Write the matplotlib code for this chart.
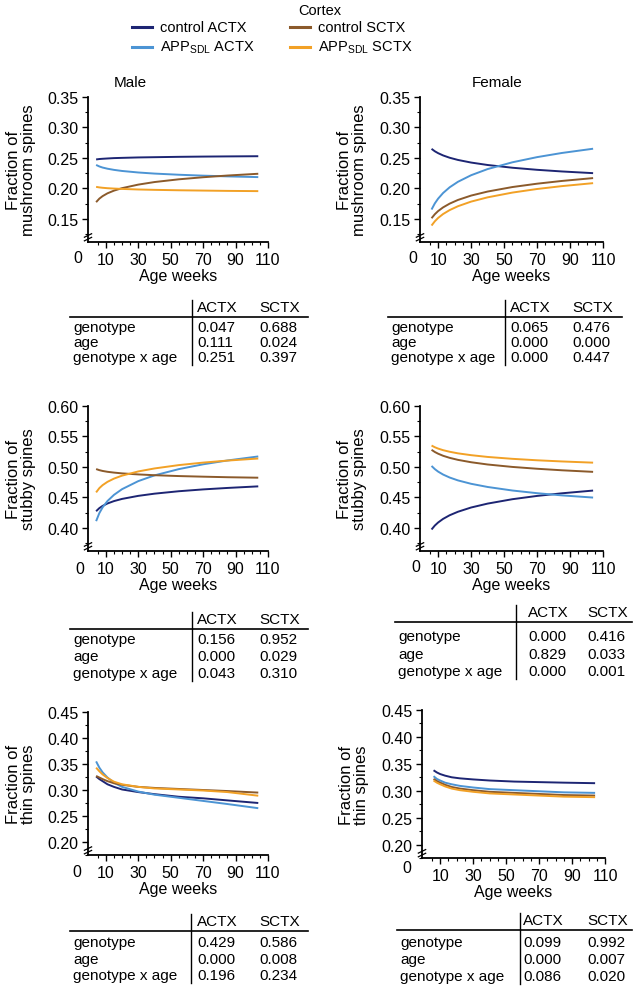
import numpy as np
import matplotlib
matplotlib.use('Agg')
import matplotlib.pyplot as plt
from matplotlib.lines import Line2D

plt.rcParams['font.family'] = ['Liberation Sans', 'DejaVu Sans']
plt.rcParams['mathtext.fontset'] = 'custom'
plt.rcParams['mathtext.rm'] = 'Liberation Sans'

W, H = 638, 995

# ages (weeks) at which the fitted curves were read
ages_male = [4, 6, 8, 11, 15, 20, 30, 40, 55, 70, 85, 104]
ages_female = [6, 8, 10, 13, 17, 22, 30, 40, 55, 70, 85, 104]

series_names = ['control ACTX', r'APP$_{\mathregular{SDL}}$ ACTX',
                'control SCTX', r'APP$_{\mathregular{SDL}}$ SCTX']
colors = ['#1d2573', '#4c94d4', '#8b5a2b', '#f2a126']

# mushroom spines
mush_male = [
    [0.2475, 0.2482, 0.2486, 0.2491, 0.2497, 0.2501, 0.2508, 0.2512, 0.2518, 0.2522, 0.2525, 0.2528],
    [0.2385, 0.2360, 0.2342, 0.2323, 0.2304, 0.2286, 0.2261, 0.2243, 0.2224, 0.2209, 0.2197, 0.2185],
    [0.1774, 0.1832, 0.1873, 0.1919, 0.1963, 0.2004, 0.2062, 0.2104, 0.2149, 0.2183, 0.2211, 0.2240],
    [0.2025, 0.2016, 0.2010, 0.2003, 0.1997, 0.1991, 0.1982, 0.1976, 0.1969, 0.1964, 0.1959, 0.1955],
]
mush_female = [
    [0.2649, 0.2609, 0.2578, 0.2541, 0.2503, 0.2467, 0.2424, 0.2384, 0.2339, 0.2305, 0.2278, 0.2250],
    [0.1653, 0.1754, 0.1832, 0.1924, 0.2018, 0.2108, 0.2216, 0.2317, 0.2428, 0.2513, 0.2581, 0.2651],
    [0.1510, 0.1576, 0.1628, 0.1688, 0.1750, 0.1810, 0.1882, 0.1948, 0.2022, 0.2077, 0.2122, 0.2169],
    [0.1390, 0.1460, 0.1515, 0.1579, 0.1644, 0.1707, 0.1783, 0.1853, 0.1931, 0.1990, 0.2037, 0.2086],
]
# stubby spines
stub_male = [
    [0.4273, 0.4324, 0.4360, 0.4400, 0.4439, 0.4475, 0.4525, 0.4561, 0.4601, 0.4631, 0.4655, 0.4681],
    [0.4110, 0.4242, 0.4336, 0.4440, 0.4541, 0.4635, 0.4767, 0.4861, 0.4964, 0.5043, 0.5106, 0.5172],
    [0.4965, 0.4947, 0.4934, 0.4920, 0.4907, 0.4894, 0.4877, 0.4864, 0.4850, 0.4840, 0.4831, 0.4823],
    [0.4582, 0.4652, 0.4701, 0.4755, 0.4808, 0.4857, 0.4926, 0.4975, 0.5030, 0.5071, 0.5104, 0.5138],
]
stub_female = [
    [0.3973, 0.4038, 0.4088, 0.4147, 0.4207, 0.4264, 0.4334, 0.4398, 0.4470, 0.4524, 0.4567, 0.4612],
    [0.5016, 0.4964, 0.4923, 0.4875, 0.4826, 0.4779, 0.4723, 0.4671, 0.4613, 0.4569, 0.4533, 0.4497],
    [0.5281, 0.5245, 0.5217, 0.5183, 0.5149, 0.5116, 0.5077, 0.5040, 0.5000, 0.4970, 0.4945, 0.4919],
    [0.5351, 0.5323, 0.5301, 0.5275, 0.5249, 0.5223, 0.5193, 0.5164, 0.5133, 0.5109, 0.5090, 0.5070],
]
# thin spines
thin_male = [
    [0.326, 0.321, 0.317, 0.311, 0.306, 0.301, 0.296, 0.292, 0.287, 0.284, 0.280, 0.275],
    [0.355, 0.343, 0.334, 0.324, 0.314, 0.306, 0.297, 0.291, 0.285, 0.279, 0.273, 0.265],
    [0.327, 0.324, 0.321, 0.317, 0.313, 0.310, 0.306, 0.304, 0.302, 0.300, 0.298, 0.295],
    [0.343, 0.336, 0.330, 0.323, 0.316, 0.311, 0.306, 0.303, 0.301, 0.299, 0.296, 0.289],
]
thin_female = [
    [0.338, 0.334, 0.331, 0.328, 0.325, 0.323, 0.321, 0.319, 0.317, 0.316, 0.315, 0.314],
    [0.327, 0.322, 0.319, 0.315, 0.312, 0.309, 0.306, 0.303, 0.301, 0.299, 0.297, 0.296],
    [0.322, 0.318, 0.315, 0.311, 0.307, 0.304, 0.301, 0.298, 0.296, 0.294, 0.292, 0.291],
    [0.319, 0.315, 0.312, 0.308, 0.304, 0.301, 0.298, 0.295, 0.293, 0.291, 0.289, 0.288],
]

# p-value tables: rows genotype, age, genotype x age; columns ACTX, SCTX
row_names = ['genotype', 'age', 'genotype x age']
col_names = ['ACTX', 'SCTX']
p_mush_male = [['0.047', '0.688'], ['0.111', '0.024'], ['0.251', '0.397']]
p_mush_female = [['0.065', '0.476'], ['0.000', '0.000'], ['0.000', '0.447']]
p_stub_male = [['0.156', '0.952'], ['0.000', '0.029'], ['0.043', '0.310']]
p_stub_female = [['0.000', '0.416'], ['0.829', '0.033'], ['0.000', '0.001']]
p_thin_male = [['0.429', '0.586'], ['0.000', '0.008'], ['0.196', '0.234']]
p_thin_female = [['0.099', '0.992'], ['0.000', '0.007'], ['0.086', '0.020']]

xticks = [10, 30, 50, 70, 90, 110]


def fx(x):
    return x / W


def fy(y):
    return 1 - y / H


def panel(fig, left, top, right, bottom, ages, data, ylim, yticks, ylabel,
          zero_off=(-7, -11)):
    ax = fig.add_axes([fx(left), fy(bottom), (right - left) / W, (bottom - top) / H])
    for vals, c in zip(data, colors):
        ax.plot(ages, vals, color=c, lw=1.4, solid_capstyle='butt')
    ax.set_xlim(-1, 110)
    ax.set_ylim(*ylim)
    for s in ['top', 'right']:
        ax.spines[s].set_visible(False)
    for s in ['left', 'bottom']:
        ax.spines[s].set_linewidth(1.3)
    ax.set_xticks(xticks)
    ax.set_xticks(np.arange(5, 110, 5), minor=True)
    ax.set_yticks(yticks)
    ax.set_yticklabels(['%.2f' % v for v in yticks])
    ax.set_yticks(np.arange(yticks[0] - 0.025, yticks[-1], 0.025), minor=True)
    ax.tick_params(which='major', length=4, width=1.0, labelsize=11.5, pad=3)
    ax.tick_params(which='minor', length=2.5, width=0.8)
    ax.set_xlabel('Age weeks', fontsize=11.5, labelpad=1)
    ax.text(-0.37, 0.5, ylabel, transform=ax.transAxes, rotation=90,
            ha='center', va='center', fontsize=12, multialignment='center',
            linespacing=1.0)
    ax.annotate('0', xy=(0, 0), xycoords='axes fraction', xytext=zero_off,
                textcoords='offset points', ha='center', va='center', fontsize=11.5)
    # axis break mark
    kw = dict(transform=ax.transAxes, color='k', lw=0.9, clip_on=False)
    for yy in (0.02, 0.045):
        ax.plot([-0.02, 0.02], [yy - 0.012, yy + 0.012], **kw)
    return ax


def table(fig, x_left, x_vline, x_right, x_c1, x_c2, y_head, rows_y, vals):
    y_line = y_head + 10
    fig.add_artist(Line2D([fx(x_left), fx(x_right)], [fy(y_line), fy(y_line)],
                          color='k', lw=1.2))
    fig.add_artist(Line2D([fx(x_vline), fx(x_vline)], [fy(y_head - 7), fy(rows_y[-1] + 8)],
                          color='k', lw=1.0))
    fs = 11
    fig.text(fx(x_c1), fy(y_head), col_names[0], ha='left', va='center', fontsize=fs)
    fig.text(fx(x_c2), fy(y_head), col_names[1], ha='left', va='center', fontsize=fs)
    for name, yy, row in zip(row_names, rows_y, vals):
        fig.text(fx(x_left + 3), fy(yy), name, ha='left', va='center', fontsize=fs)
        fig.text(fx(x_c1), fy(yy), row[0], ha='left', va='center', fontsize=fs)
        fig.text(fx(x_c2), fy(yy), row[1], ha='left', va='center', fontsize=fs)


fig = plt.figure(figsize=(W / 100, H / 100), dpi=100)

# legend
fig.text(fx(320), fy(11), 'Cortex', ha='center', va='center', fontsize=10.5)
leg_pos = [(132, 28), (132, 48), (290, 28), (290, 48)]
for (lx, ly), name, c in zip(leg_pos, series_names, colors):
    fig.add_artist(Line2D([fx(lx), fx(lx + 20)], [fy(ly), fy(ly)], color=c, lw=2.2))
    fig.text(fx(lx + 28), fy(ly), name, ha='left', va='center', fontsize=10.5)

fig.text(fx(130), fy(83), 'Male', ha='center', va='center', fontsize=11)
fig.text(fx(497), fy(83), 'Female', ha='center', va='center', fontsize=11)

# row 1: mushroom
panel(fig, 88, 98, 268, 243, ages_male, mush_male, (0.112, 0.35),
      [0.15, 0.20, 0.25, 0.30, 0.35], 'Fraction of\nmushroom spines', zero_off=(-7, -11))
panel(fig, 420, 98, 603, 243, ages_female, mush_female, (0.112, 0.35),
      [0.15, 0.20, 0.25, 0.30, 0.35], 'Fraction of\nmushroom spines', zero_off=(-5, -11))
table(fig, 70, 192, 308, 197, 259, 308, [328, 343, 358], p_mush_male)
table(fig, 388, 505, 622, 510, 572, 308, [328, 343, 358], p_mush_female)

# row 2: stubby
panel(fig, 88, 407, 268, 552, ages_male, stub_male, (0.362, 0.60),
      [0.40, 0.45, 0.50, 0.55, 0.60], 'Fraction of\nstubby spines', zero_off=(-6, -12.5))
panel(fig, 420, 407, 603, 552, ages_female, stub_female, (0.362, 0.60),
      [0.40, 0.45, 0.50, 0.55, 0.60], 'Fraction of\nstubby spines', zero_off=(-3, -11))
table(fig, 70, 192, 308, 197, 259, 620, [640, 657, 674], p_stub_male)
table(fig, 395, 516, 632, 528, 587, 613, [637, 655, 672], p_stub_female)

# row 3: thin
panel(fig, 88, 713, 268, 856, ages_male, thin_male, (0.19, 0.45),
      [0.20, 0.25, 0.30, 0.35, 0.40, 0.45], 'Fraction of\nthin spines', zero_off=(-8, -12))
panel(fig, 422, 711, 605, 859, ages_female, thin_female, (0.195, 0.45),
      [0.20, 0.25, 0.30, 0.35, 0.40, 0.45], 'Fraction of\nthin spines', zero_off=(-11, -6.5))
table(fig, 70, 191, 308, 197, 259, 922, [943, 960, 976], p_thin_male)
table(fig, 397, 520, 632, 523, 587, 921, [943, 960, 977], p_thin_female)

fig.savefig('out.png', dpi=100)
